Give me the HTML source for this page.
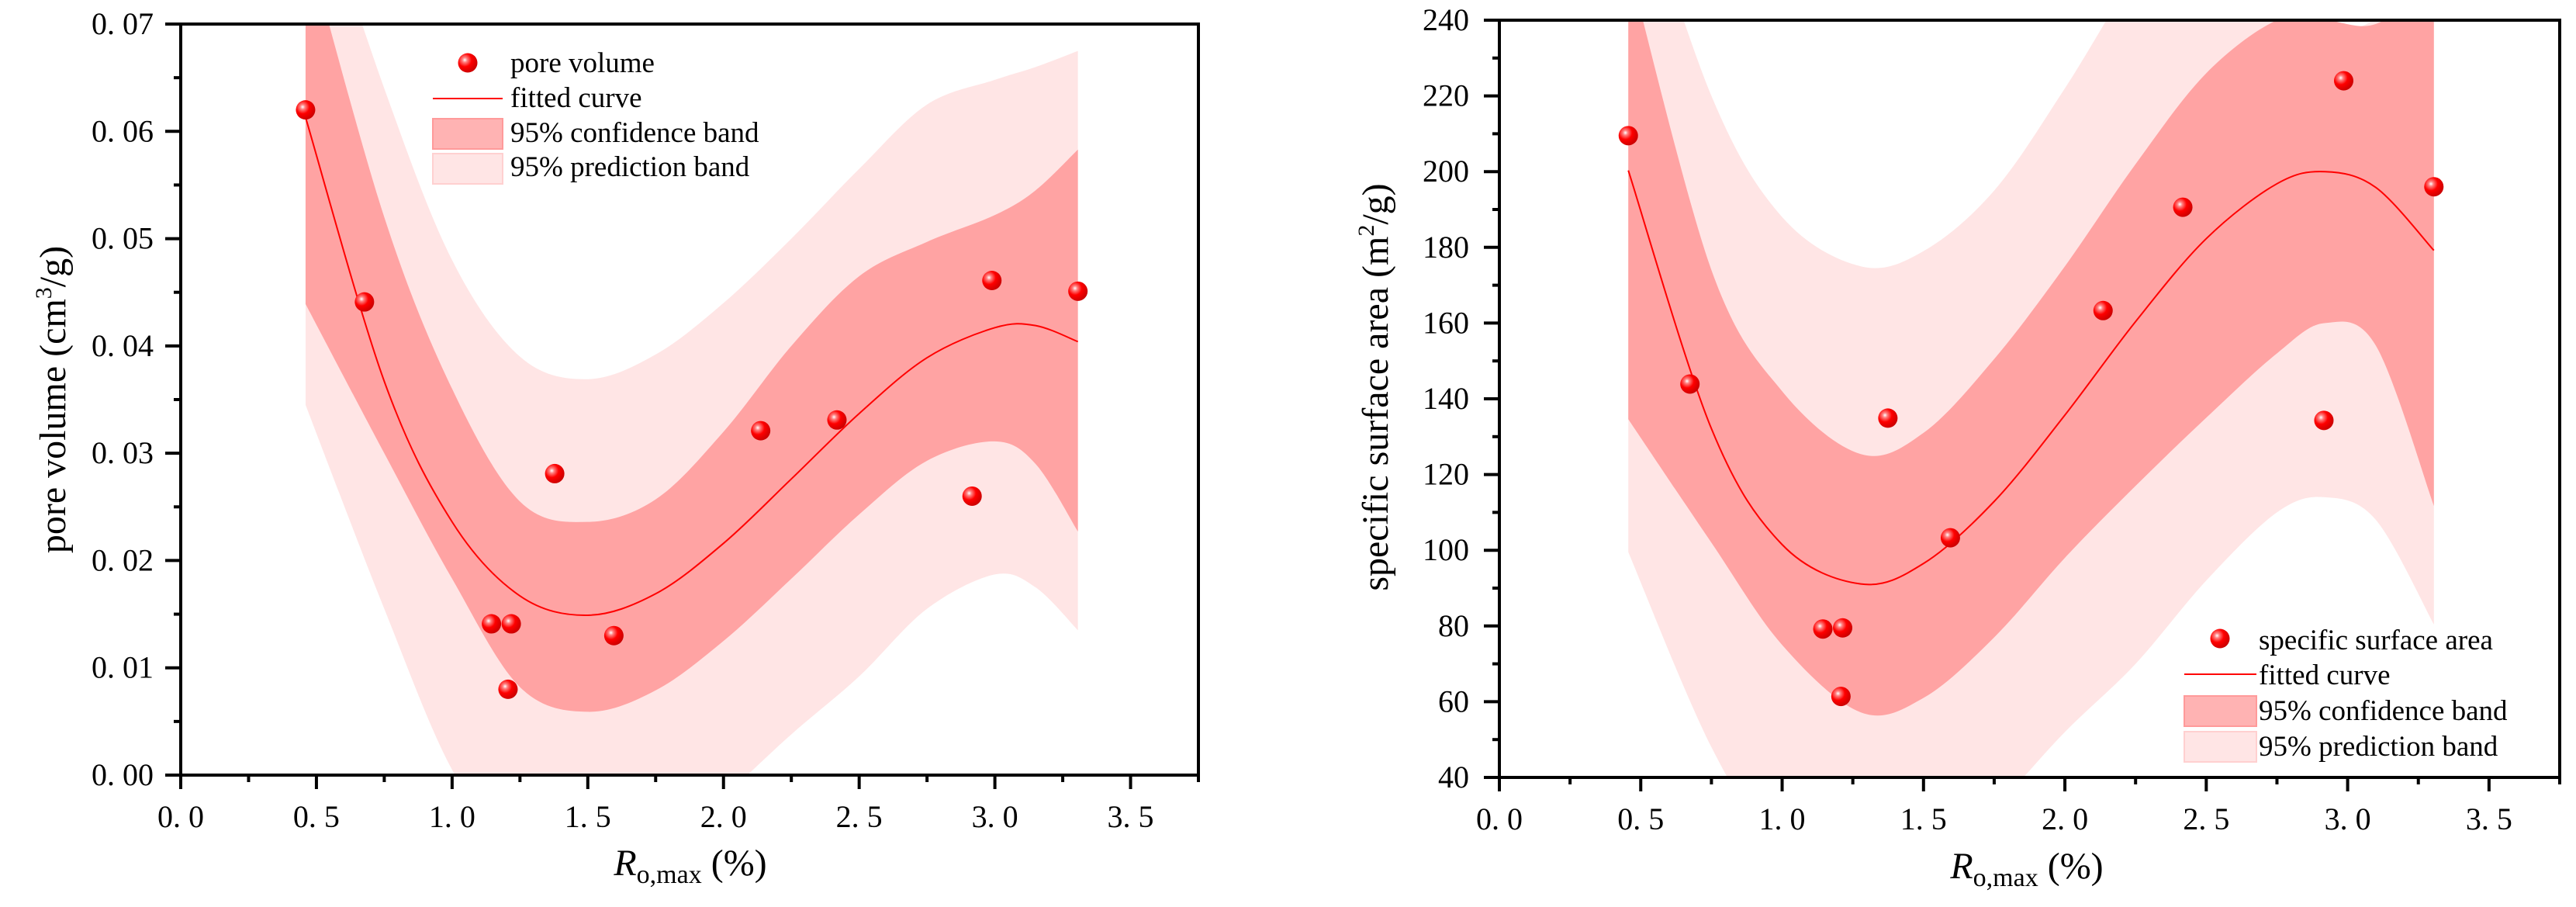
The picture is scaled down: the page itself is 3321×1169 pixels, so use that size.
<!DOCTYPE html>
<html><head><meta charset="utf-8"><style>
html,body{margin:0;padding:0;background:#fff;}
svg{display:block;}
text{font-family:"Liberation Serif","DejaVu Serif",serif;}
</style></head><body>
<svg id="chart" width="3321" height="1169" viewBox="0 0 3321 1169" xmlns="http://www.w3.org/2000/svg" font-family="Liberation Serif, serif" style="position:absolute;left:0;top:0">
<defs>
<radialGradient id="ball" cx="0.35" cy="0.35" r="0.7">
<stop offset="0" stop-color="#ffffff"/><stop offset="0.18" stop-color="#ff8080"/><stop offset="0.5" stop-color="#ff0000"/><stop offset="1" stop-color="#c80000"/>
</radialGradient>
<clipPath id="clipL"><rect x="233" y="31" width="1311" height="968"/></clipPath>
<clipPath id="clipR"><rect x="1933" y="26" width="1367" height="976"/></clipPath>
</defs>
<g id="left"></g>
<g id="right"></g>
</svg>
<script>
// ---------- Left chart data (pore volume) ----------
const ptsLx = [0.46,0.677,1.145,1.218,1.206,1.378,1.596,2.137,2.418,2.916,2.989,3.306];
const ptsLy = [0.062,0.0441,0.0141,0.0141,0.0080,0.0281,0.0130,0.0321,0.0331,0.0260,0.0461,0.0451];
const gridL = [0.46,0.75,1.0,1.25,1.5,1.75,2.0,2.25,2.5,2.75,3.0,3.15,3.306];
const fitLy = [0.0613,0.0367,0.0236,0.0167,0.0149,0.0169,0.0216,0.0276,0.0337,0.0389,0.0417,0.0419,0.0404];
const confUpLy = [0.078,0.052,0.036,0.0255,0.0236,0.0257,0.032,0.040,0.0465,0.0497,0.0522,0.0545,0.0583];
const confLoLy = [0.0439,0.0300,0.0183,0.0082,0.0059,0.0079,0.0125,0.0183,0.0243,0.0293,0.0311,0.0290,0.0227];
const predUpLy = [0.086,0.064,0.048,0.039,0.0369,0.0392,0.0440,0.050,0.0565,0.0625,0.0648,0.066,0.0675];
const predLoLy = [0.0345,0.0155,0.0005,-0.008,-0.0095,-0.007,-0.002,0.0038,0.0092,0.0155,0.0187,0.0175,0.0135];
const xTicks = ["0. 0","0. 5","1. 0","1. 5","2. 0","2. 5","3. 0","3. 5"];
const yTicksL = ["0. 00","0. 01","0. 02","0. 03","0. 04","0. 05","0. 06","0. 07"];

// ---------- Right chart data (specific surface area) ----------
const ptsRx = [0.456,0.674,1.144,1.214,1.208,1.374,1.595,2.135,2.417,2.916,2.986,3.305];
const ptsRy = [209.5,143.9,79.2,79.5,61.4,134.9,103.3,163.3,190.6,134.3,224,196];
const gridR = [0.456,0.75,1.0,1.278,1.5,1.75,2.0,2.25,2.5,2.75,2.92,3.1,3.305];
const fitRy = [200.3,132.1,101.5,91.1,96.5,112.9,135.7,160.4,182.3,196.8,200,195.8,179.2];
const confUpRy = [255,174,142,125.4,131,150.5,175,202,226,240,240,239,250];
const confLoRy = [134.6,102,75,57.2,61,77,98,117,135,152,160,154,111.7];
const predUpRy = [285,220,188,175,179,195,222,252,275,258,239.5,240.5,260];
const predLoRy = [99.5,48,20,12,17,32,52,70,92,110,114,108,80.4];
const yTicksR = ["40","60","80","100","120","140","160","180","200","220","240"];

const NS = "http://www.w3.org/2000/svg";
function mk(parent, tag, attrs){const e=document.createElementNS(NS,tag);for(const k in attrs)e.setAttribute(k,attrs[k]);parent.appendChild(e);return e;}

function smooth(p){
  let d="M"+p[0][0]+","+p[0][1];
  for(let i=0;i<p.length-1;i++){
    const p0=p[i-1]||p[i],p1=p[i],p2=p[i+1],p3=p[i+2]||p2;
    const c1=[p1[0]+(p2[0]-p0[0])/6,p1[1]+(p2[1]-p0[1])/6];
    const c2=[p2[0]-(p3[0]-p1[0])/6,p2[1]-(p3[1]-p1[1])/6];
    d+=" C"+c1[0]+","+c1[1]+" "+c2[0]+","+c2[1]+" "+p2[0]+","+p2[1];
  }
  return d;
}
function bandPath(gx,uy,ly,X,Y){
  const up=gx.map((v,i)=>[X(v),Y(uy[i])]);
  const lo=gx.map((v,i)=>[X(v),Y(ly[i])]).reverse();
  return smooth(up)+" L"+lo[0][0]+","+lo[0][1]+" "+smooth(lo).slice(1)+" Z";
}

function drawChart(g,cfg){
  const {x0,x1,y0,y1,xmax,ymin,ymax,clip,gx}=cfg;
  const X=v=>x0+(v/xmax)*(x1-x0);
  const Y=v=>y0-(v-ymin)/(ymax-ymin)*(y0-y1);
  const cg=mk(g,"g",{"clip-path":"url(#"+clip+")"});
  const pb=mk(cg,"path",{d:bandPath(gx,cfg.puY,cfg.plY,X,Y),fill:"#ffe5e5"});
  
  
  const cb=mk(cg,"path",{d:bandPath(gx,cfg.cuY,cfg.clY,X,Y),fill:"#ffa3a3"});
  
  
  const fl=mk(cg,"path",{d:smooth(gx.map((v,i)=>[X(v),Y(cfg.fY[i])])),fill:"none",stroke:"#ff0000","stroke-width":2});
  
  
  cfg.pX.forEach((v,i)=>{
    const c=mk(g,"circle",{cx:X(v),cy:Y(cfg.pY[i]),r:12.5,fill:"url(#ball)"});
    
    
  });
  const fr=mk(g,"rect",{x:x0,y:y1,width:x1-x0,height:y0-y1,fill:"none",stroke:"#000","stroke-width":4});
  
  
  for(let k=0;k<=15;k++){
    const xx=X(k*0.25),maj=k%2===0;
    mk(g,"line",{x1:xx,y1:y0,x2:xx,y2:y0+(maj?18:9),stroke:"#000","stroke-width":4});
  }
  xTicks.forEach((t,i)=>{
    const tx=mk(g,"text",{x:X(i*0.5),y:y0+67,"font-size":40,"text-anchor":"middle","font-family":"Liberation Serif, serif"});
    tx.textContent=t;
    
    
  });
  const n=cfg.yLabels.length-1, step=(ymax-ymin)/n;
  for(let k=0;k<=2*n;k++){
    const yy=Y(ymin+k*step/2),maj=k%2===0;
    mk(g,"line",{x1:x0,y1:yy,x2:x0-(maj?20:9),y2:yy,stroke:"#000","stroke-width":4});
  }
  cfg.yLabels.forEach((t,i)=>{
    const tx=mk(g,"text",{x:cfg.ylx,y:Y(ymin+i*step)+13,"font-size":40,"text-anchor":"end","font-family":"Liberation Serif, serif"});
    tx.textContent=t;
    
    
  });
}

drawChart(document.getElementById("left"),{x0:233,x1:1545,y0:999,y1:31,xmax:3.75,ymin:0,ymax:0.07,clip:"clipL",ylx:198,gx:gridL,
  pX:ptsLx,pY:ptsLy,fY:fitLy,cuY:confUpLy,clY:confLoLy,puY:predUpLy,plY:predLoLy,yLabels:yTicksL});
drawChart(document.getElementById("right"),{x0:1933,x1:3300,y0:1002,y1:26,xmax:3.75,ymin:40,ymax:240,clip:"clipR",ylx:1894,gx:gridR,
  pX:ptsRx,pY:ptsRy,fY:fitRy,cuY:confUpRy,clY:confLoRy,puY:predUpRy,plY:predLoRy,yLabels:yTicksR});
</script>
<svg style="position:absolute;left:0;top:0" width="3321" height="1169" xmlns="http://www.w3.org/2000/svg" font-family="Liberation Serif, serif">
<defs>
<radialGradient id="ball2" cx="0.35" cy="0.35" r="0.7">
<stop offset="0" stop-color="#ffffff"/><stop offset="0.18" stop-color="#ff8080"/><stop offset="0.5" stop-color="#ff0000"/><stop offset="1" stop-color="#c80000"/>
</radialGradient>
</defs>
<text x="890" y="1128" font-size="48" text-anchor="middle"><tspan font-style="italic">R</tspan><tspan font-size="34" dy="10">o,max</tspan><tspan dy="-10"> (%)</tspan></text>
<text x="2613" y="1132" font-size="48" text-anchor="middle"><tspan font-style="italic">R</tspan><tspan font-size="34" dy="10">o,max</tspan><tspan dy="-10"> (%)</tspan></text>
<text transform="translate(84,515) rotate(-90)" font-size="48" text-anchor="middle">pore volume (cm<tspan font-size="30" dy="-18">3</tspan><tspan dy="18">/g)</tspan></text>
<text transform="translate(1789,499) rotate(-90)" font-size="48" text-anchor="middle">specific surface area (m<tspan font-size="30" dy="-18">2</tspan><tspan dy="18">/g)</tspan></text>
<g font-size="37">
<circle cx="603" cy="81" r="12.5" fill="url(#ball2)"/>
<text x="658" y="93">pore volume</text>
<line x1="558" y1="127" x2="648" y2="127" stroke="#ff0000" stroke-width="2"/>
<text x="658" y="138">fitted curve</text>
<rect x="558" y="153" width="90" height="39" fill="#ffb3b3" stroke="#ff9a9a" stroke-width="2"/>
<text x="658" y="183">95% confidence band</text>
<rect x="558" y="198" width="90" height="39" fill="#ffe5e5" stroke="#ffd0d0" stroke-width="2"/>
<text x="658" y="227">95% prediction band</text>
</g>
<g font-size="37">
<circle cx="2862" cy="823" r="12.5" fill="url(#ball2)"/>
<text x="2912" y="837">specific surface area</text>
<line x1="2816" y1="869" x2="2909" y2="869" stroke="#ff0000" stroke-width="2"/>
<text x="2912" y="882">fitted curve</text>
<rect x="2816" y="897" width="93" height="39" fill="#ffb3b3" stroke="#ff9a9a" stroke-width="2"/>
<text x="2912" y="928">95% confidence band</text>
<rect x="2816" y="943" width="93" height="39" fill="#ffe5e5" stroke="#ffd0d0" stroke-width="2"/>
<text x="2912" y="974">95% prediction band</text>
</g>
</svg>
</body></html>
